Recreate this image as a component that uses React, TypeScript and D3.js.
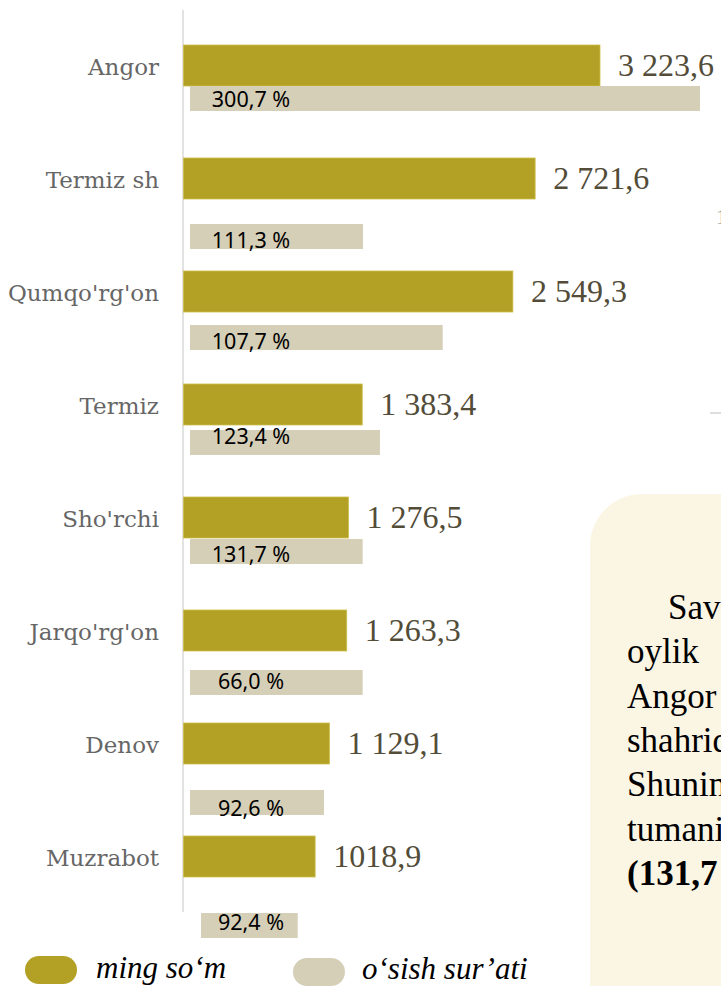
import React from "react";
import * as d3 from "d3";

const categories = ["Angor", "Termiz sh", "Qumqo'rg'on", "Termiz", "Sho'rchi", "Jarqo'rg'on", "Denov", "Muzrabot"];
const wageValues = [3223.6, 2721.6, 2549.3, 1383.4, 1276.5, 1263.3, 1129.1, 1018.9];
const wageLabels = ["3 223,6", "2 721,6", "2 549,3", "1 383,4", "1 276,5", "1 263,3", "1 129,1", "1018,9"];
const growthLabels = ["300,7 %", "111,3 %", "107,7 %", "123,4 %", "131,7 %", "66,0 %", "92,6 %", "92,4 %"];
// growth bars as drawn in the picture (percent units)
const growthBarStart = [0, 0, 0, 0, 0, 0, 0, 6.5];
const growthBarEnd = [300.7, 102.0, 149.0, 112.0, 101.8, 101.8, 79.0, 63.5];
const legendLabels = ["ming so‘m", "o‘sish sur’ati"];
const noteLines = ["Savdo", "oylik", "Angor", "shahrida", "Shuningdek", "tumanida", "(131,7"];

// layout (pixels)
const growthBarOffset = [41, 66, 54, 46, 42, 60, 67, 77];
const growthLabelShift = [0.5, 3.5, 3.7, -7, 2, -2, 5.5, -4];

const W = 721;
const H = 986;
const GOLD = "#b3a126";
const BEIGE = "#d6cfb8";

export default function App() {
  const y = d3.scaleBand<string>().domain(categories).range([45, 45 + 113 * categories.length]);
  const x = d3.scaleLinear().domain([0, 3223.6]).range([183.5, 600]);
  const xg = d3.scaleLinear().domain([0, 300.7]).range([190, 700]);
  const barH = 41;
  const gH = 25;

  return (
    <svg
      width={W}
      height={H}
      style={{ position: "absolute", left: 0, top: 0, background: "#fff" }}
    >
      <rect x={0} y={0} width={W} height={H} fill="#fff" />
      {/* note box */}
      <rect x={590} y={494} width={220} height={560} rx={52} fill="#fbf5e4" />
      {noteLines.map((t, i) => (
        <text
          key={t}
          x={i === 0 ? 668 : 627}
          y={619 + i * 44.3}
          fontFamily="'Liberation Serif', serif"
          fontSize={35}
          fontWeight={i === noteLines.length - 1 ? "bold" : "normal"}
          fill="#000"
        >
          {t}
        </text>
      ))}
      {/* remnants at right edge */}
      <line x1={710} x2={721} y1={413} y2={413} stroke="#bdbdbd" strokeWidth={1} />
      <text x={716} y={224} fontFamily="'Liberation Serif', serif" fontSize={22} fill="#9a9a9a">1</text>

      {/* axis */}
      <line x1={183} x2={183} y1={10} y2={912} stroke="#d9d9d9" strokeWidth={1.5} />

      {categories.map((c, i) => {
        const y0 = y(c)!;
        const gy = y0 + growthBarOffset[i];
        const gc = gy + gH / 2 + growthLabelShift[i];
        return (
          <g key={c}>
            <rect
              x={x(0)}
              y={y0}
              width={x(wageValues[i]) - x(0)}
              height={barH}
              fill={GOLD}
              stroke="#cdbd4c"
              strokeWidth={0.8}
            />
            <rect
              x={xg(growthBarStart[i])}
              y={gy}
              width={xg(growthBarEnd[i]) - xg(growthBarStart[i])}
              height={gH}
              fill={BEIGE}
            />
            <text
              x={159}
              y={y0 + barH / 2 + 9}
              textAnchor="end"
              fontFamily="'DejaVu Serif', serif"
              fontSize={23}
              fill="#666666"
            >
              {c}
            </text>
            <text
              x={x(wageValues[i]) + 18}
              y={y0 + barH / 2 + 10}
              fontFamily="'Liberation Serif', serif"
              fontSize={32}
              fill="#524c38"
            >
              {wageLabels[i]}
            </text>
            <text
              x={251}
              y={gc + 8}
              textAnchor="middle"
              fontFamily="'Noto Sans', sans-serif"
              fontSize={21.5}
              fill="#000"
            >
              {growthLabels[i]}
            </text>
          </g>
        );
      })}

      {/* legend */}
      <rect x={25} y={956} width={52} height={28} rx={14} fill={GOLD} />
      <text x={96} y={978} fontFamily="'Liberation Serif', serif" fontStyle="italic" fontSize={31} fill="#000">
        {legendLabels[0]}
      </text>
      <rect x={293} y={958} width={52} height={28} rx={14} fill={BEIGE} />
      <text x={362} y={979} fontFamily="'Liberation Serif', serif" fontStyle="italic" fontSize={31} fill="#000">
        {legendLabels[1]}
      </text>
    </svg>
  );
}
